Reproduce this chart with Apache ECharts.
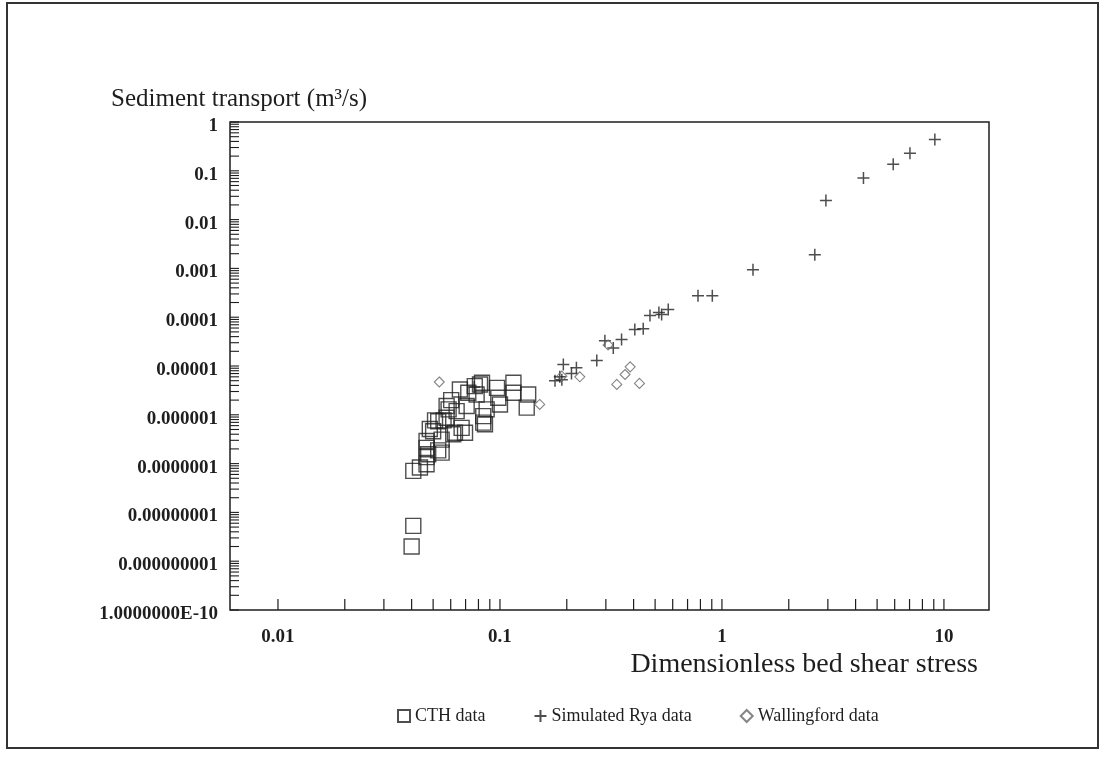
<!DOCTYPE html>
<html>
<head>
<meta charset="utf-8">
<script src="https://cdn.jsdelivr.net/npm/echarts@6/dist/echarts.min.js"></script>
<style>
html,body{margin:0;padding:0;background:#fff;}
#main{width:1106px;height:760px;}
</style>
</head>
<body>
<div id="main"></div>
<script>
// ---- data ----
const cthX = [0.0407,0.0436,0.0467,0.0467,0.0475,0.0546,0.0467,0.0527,0.0467,0.0546,0.0483,0.0500,0.0527,0.0510,0.0557,0.0575,0.0587,0.0575,0.0603,0.066,0.072,0.0708,0.0638,0.0672,0.0696,0.0616,0.0627,0.0813,0.077,0.083,0.0785,0.0871,0.0856,0.0841,0.0841,0.097,0.0983,0.1,0.115,0.115,0.134,0.132,0.0407,0.040];
const cthY = [7.1e-8,8.3e-8,9.7e-8,1.36e-7,1.55e-7,1.68e-7,2.1e-7,1.87e-7,2.9e-7,3.1e-7,5.1e-7,4.6e-7,7.4e-7,7.7e-7,7.7e-7,8.7e-7,1.29e-6,1.51e-6,2.0e-6,3.31e-6,2.83e-6,1.51e-6,1.19e-6,5.4e-7,4.3e-7,4.0e-7,4.3e-7,4.19e-6,3.86e-6,4.54e-6,2.61e-6,1.29e-6,6.4e-7,9.4e-7,6.9e-7,3.57e-6,2.24e-6,1.63e-6,4.54e-6,2.83e-6,2.61e-6,1.40e-6,5.3e-9,2.0e-9];

const ryaX = [9.1,7.03,5.91,4.34,2.94,2.62,1.38,0.905,0.78,0.573,0.535,0.52,0.474,0.442,0.405,0.353,0.297,0.324,0.273,0.193,0.221,0.21,0.186,0.177,0.19,0.0766];
const ryaY = [0.44,0.229,0.136,0.0716,0.0246,0.0019,0.00094,0.000276,0.000276,0.000143,0.000113,0.000125,0.000108,5.8e-5,5.6e-5,3.5e-5,3.3e-5,2.35e-5,1.3e-5,1.07e-5,9.2e-6,7.0e-6,6.0e-6,5.0e-6,5.2e-6,3.7e-6];

const walX = [0.0533,0.151,0.19,0.229,0.307,0.336,0.366,0.386,0.425];
const walY = [4.7e-6,1.63e-6,6.2e-6,6.0e-6,2.7e-5,4.2e-6,6.7e-6,9.6e-6,4.4e-6];

const seriesNames = ['CTH data','Simulated Rya data','Wallingford data'];
const xTickLabels = ['0.01','0.1','1','10'];          // exponents -2..1
const yTickLabels = ['1.0000000E-10','0.000000001','0.00000001','0.0000001','0.000001','0.00001','0.0001','0.001','0.01','0.1','1']; // exponents -10..0
const xName = 'Dimensionless bed shear stress';
const yName = 'Sediment transport (m\u00B3/s)';

// axis ranges
const xMin = 0.00608, xMax = 15.96;
const yMin = 1e-10, yMax = 1;

// minor/major tick values (2..9 per decade)
const xTickVals = [];
for (let e = -2; e <= 1; e++) { for (let m = 1; m <= 9; m++) { const v = m * Math.pow(10, e); if (v <= 10.0001) xTickVals.push(v); } }
const yTickVals = [];
for (let e = -10; e <= 0; e++) { for (let m = 1; m <= 9; m++) { const v = m * Math.pow(10, e); if (v <= 1.0001) yTickVals.push(v); } }

const zip = (a, b) => a.map((v, i) => [v, b[i]]);
const serif = '"Liberation Serif","DejaVu Serif",serif';
const ink = '#1e1e1e';

function decadeLabel(v, labels, e0) {
  const l = Math.log10(v);
  const e = Math.round(l);
  if (Math.abs(l - e) > 1e-6) return '';
  const s = labels[e - e0];
  return s === undefined ? '' : s;
}

const chart = echarts.init(document.getElementById('main'), null, {renderer: 'canvas'});
chart.setOption({
  backgroundColor: '#ffffff',
  animation: false,
  title: {
    text: yName, left: 106, top: 82,
    textStyle: {fontFamily: serif, fontSize: 25, fontWeight: 'normal', color: ink}
  },
  grid: {left: 230, top: 122, right: 117, bottom: 150, show: true, borderColor: ink, borderWidth: 1.5, backgroundColor: 'transparent'},
  xAxis: {
    type: 'log', logBase: 10, min: xMin, max: xMax,
    axisLine: {show: false}, axisTick: {show: false}, splitLine: {show: false},
    axisLabel: {
      fontFamily: serif, fontSize: 19, fontWeight: 'bold', color: ink, margin: 18,
      showMinLabel: false, showMaxLabel: false,
      formatter: v => decadeLabel(v, xTickLabels, -2)
    },
    name: xName, nameLocation: 'end', nameGap: 0,
    nameTextStyle: {fontFamily: serif, fontSize: 28, color: ink, align: 'right', verticalAlign: 'top', padding: [41, 11, 0, 0]}
  },
  yAxis: {
    type: 'log', logBase: 10, min: yMin, max: yMax, interval: 1, splitNumber: 10,
    axisLine: {show: false}, axisTick: {show: false}, splitLine: {show: false},
    axisLabel: {
      fontFamily: serif, fontSize: 19, fontWeight: 'bold', color: ink, margin: 12,
      verticalAlign: 'top', lineHeight: 8,
      formatter: v => decadeLabel(v, yTickLabels, -10)
    }
  },
  legend: {
    data: seriesNames, left: 392, top: 702, itemGap: 48, itemWidth: 12, itemHeight: 12,
    textStyle: {fontFamily: serif, fontSize: 18, color: ink}
  },
  graphic: [{
    type: 'rect', shape: {x: 7, y: 3, width: 1091, height: 745},
    style: {fill: 'none', stroke: '#333', lineWidth: 2}, silent: true, z: 0
  }],
  series: [
    {
      name: seriesNames[0], type: 'scatter', data: zip(cthX, cthY),
      symbol: 'rect', symbolSize: 15,
      itemStyle: {color: 'rgba(0,0,0,0)', borderColor: '#222', borderWidth: 1.4}
    },
    {
      name: seriesNames[1], type: 'scatter', data: zip(ryaX, ryaY),
      symbol: 'path://M5,0L5,10M0,5L10,5', symbolSize: 12,
      itemStyle: {color: 'rgba(0,0,0,0)', borderColor: '#222', borderWidth: 1.5}
    },
    {
      name: seriesNames[2], type: 'scatter', data: zip(walX, walY),
      symbol: 'diamond', symbolSize: 10,
      itemStyle: {color: 'rgba(0,0,0,0)', borderColor: '#666', borderWidth: 1.1}
    },
    {
      type: 'custom', silent: true, clip: false, legendHoverLink: false,
      data: xTickVals.map(v => [v, yMin]),
      renderItem: (params, api) => {
        const p = api.coord([api.value(0), yMin]);
        return {type: 'line', shape: {x1: p[0], y1: p[1], x2: p[0], y2: p[1] - 11}, style: {stroke: ink, lineWidth: 1.2}};
      }
    },
    {
      type: 'custom', silent: true, clip: false, legendHoverLink: false,
      data: yTickVals.map(v => [xMin, v]),
      renderItem: (params, api) => {
        const p = api.coord([xMin, api.value(1)]);
        return {type: 'line', shape: {x1: p[0], y1: p[1], x2: p[0] + 9, y2: p[1]}, style: {stroke: ink, lineWidth: 1.1}};
      }
    }
  ]
});
</script>
</body>
</html>
